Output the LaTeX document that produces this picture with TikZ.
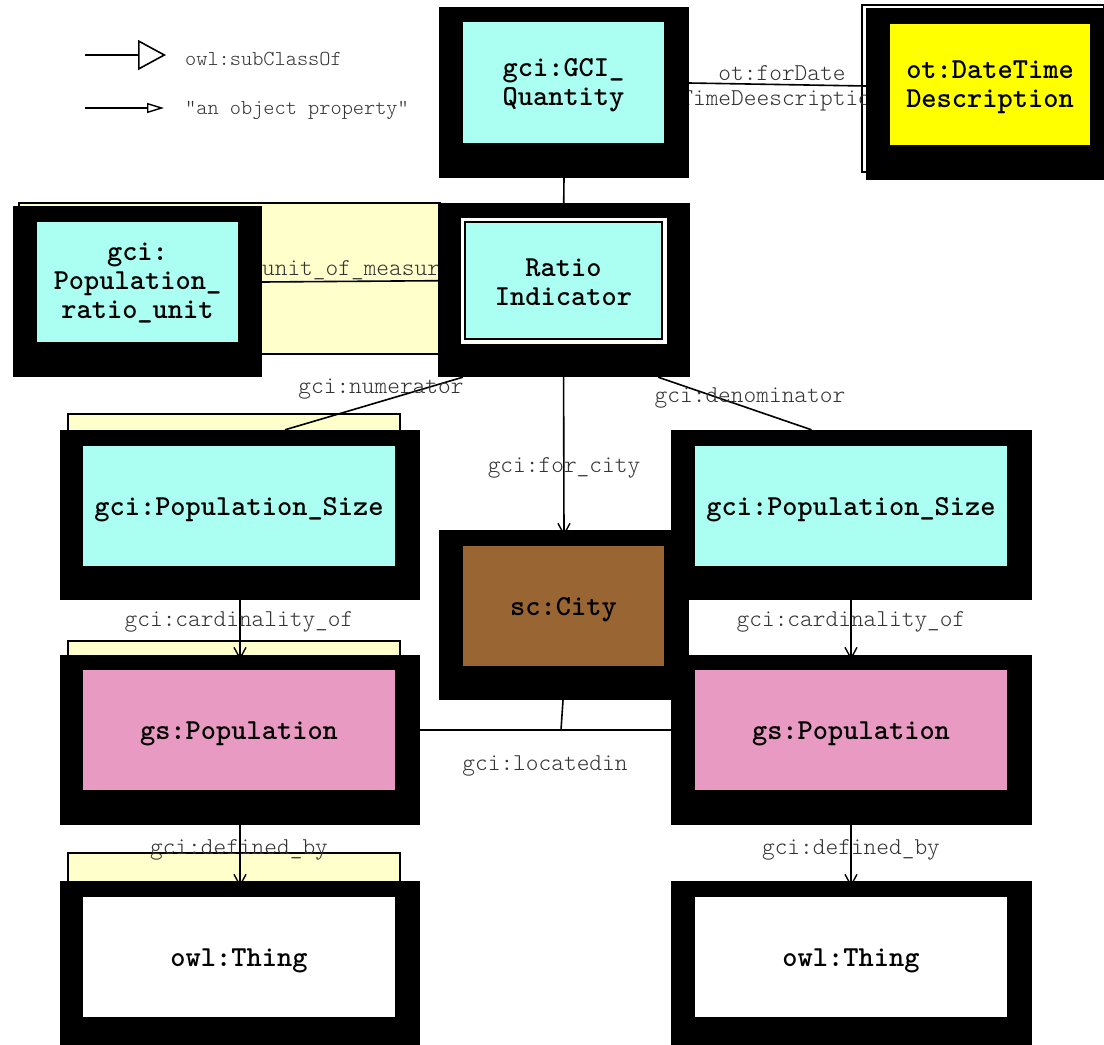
\documentclass[tikz,border=0pt]{standalone}
\usetikzlibrary{arrows.meta}
\definecolor{aqua}{HTML}{AAFFF2}
\definecolor{dtyellow}{HTML}{FFFF00}
\definecolor{citybrown}{HTML}{996633}
\definecolor{poppink}{HTML}{E89AC3}
\definecolor{pale}{HTML}{FFFFCC}
\definecolor{lblgray}{HTML}{333333}
\pgfdeclarelayer{back}
\pgfdeclarelayer{edges}
\pgfsetlayers{back,edges,main}
\tikzset{
  outerbox/.style={fill=black, draw=none, inner sep=0pt},
  innerbox/.style={draw=none, inner sep=0pt},
  ratiobox/.style={innerbox, fill=aqua, draw=black, line width=1.8pt,
    preaction={draw=white, line width=9pt}},
  classname/.style={inner sep=0pt, align=center,
    font=\ttfamily\bfseries\fontsize{29}{29}\selectfont},
  edge/.style={line width=1.6pt, draw=black},
  prop/.style={edge, -{Straight Barb[length=11pt, width=12pt, line width=1.4pt]}},
  elabel/.style={font=\ttfamily\fontseries{l}\fontsize{24.2}{25}\selectfont, text=lblgray,
    inner sep=0pt, align=center},
  legtext/.style={font=\ttfamily\fontseries{l}\fontsize{21.3}{22}\selectfont, text=lblgray,
    inner sep=0pt, anchor=west},
  paleback/.style={fill=pale, draw=black, line width=1.5pt},
}
\begin{document}
\begin{tikzpicture}[x=1pt, y=-1pt]
\clip (0,0) rectangle (1104,1045);
\begin{pgfonlayer}{back}
  \fill[white] (0,0) rectangle (1104,1045);
\end{pgfonlayer}

% legend
\coordinate (lg1a) at (85,55);
\coordinate (lg1b) at (166,55);
\coordinate (lg2a) at (85,108);
\coordinate (lg2b) at (164,108);
\draw[line width=1.6pt, -{Triangle[open, length=28pt, width=30pt, line width=1.6pt]}] (lg1a) -- (lg1b);
\draw[line width=1.6pt, -{Triangle[open, length=17pt, width=10pt, line width=1.4pt]}] (lg2a) -- (lg2b);
\node[legtext] (lgt1) at (185,59) {owl:subClassOf};
\node[legtext] (lgt2) at (185,110) {"an object property"};

% class boxes: black frame, coloured face, class name
\node[outerbox, minimum width=250pt, minimum height=171pt] (gciQ) at (564,92.5) {};
\node[innerbox, fill=aqua, minimum width=201pt, minimum height=121pt] (gciQ-in) at (563.5,82.5) {};
\node[classname] (gciQ-t) at ([yshift=-3pt]gciQ-in.center) {gci:GCI\_\\Quantity};

\node[outerbox, minimum width=238pt, minimum height=172pt] (dt) at (985,94) {};
\node[innerbox, fill=dtyellow, minimum width=200pt, minimum height=121pt] (dt-in) at (990,84.5) {};
\node[classname] (dt-t) at ([yshift=-2.5pt]dt-in.center) {ot:DateTime\\Description};

\node[outerbox, minimum width=249pt, minimum height=171pt] (pru) at (137.5,291.5) {};
\node[innerbox, fill=aqua, minimum width=201pt, minimum height=120pt] (pru-in) at (137.5,282) {};
\node[classname] (pru-t) at ([yshift=-1pt]pru-in.center) {gci:\\Population\_\\ratio\_unit};

\node[outerbox, minimum width=252pt, minimum height=174pt] (ratio) at (564,290) {};
\node[ratiobox, minimum width=197pt, minimum height=117pt] (ratio-in) at (563.5,280.5) {};
\node[classname] (ratio-t) at ([yshift=-1.5pt]ratio-in.center) {Ratio\\Indicator};

\node[outerbox, minimum width=360pt, minimum height=170pt] (psL) at (240,515) {};
\node[innerbox, fill=aqua, minimum width=312pt, minimum height=120pt] (psL-in) at (239,506) {};
\node[classname] (psL-t) at ([yshift=-4pt]psL-in.center) {gci:Population\_Size};

\node[outerbox, minimum width=361pt, minimum height=170pt] (psR) at (851.5,515) {};
\node[innerbox, fill=aqua, minimum width=312pt, minimum height=120pt] (psR-in) at (851,506) {};
\node[classname] (psR-t) at ([yshift=-4pt]psR-in.center) {gci:Population\_Size};

\node[outerbox, minimum width=250pt, minimum height=170pt] (city) at (564,615) {};
\node[innerbox, fill=citybrown, minimum width=201pt, minimum height=120pt] (city-in) at (563.5,606) {};
\node[classname] (city-t) at ([yshift=-3.5pt]city-in.center) {sc:City};

\node[outerbox, minimum width=360pt, minimum height=170pt] (popL) at (240,740) {};
\node[innerbox, fill=poppink, minimum width=312pt, minimum height=120pt] (popL-in) at (239,730) {};
\node[classname] (popL-t) at ([yshift=-4pt]popL-in.center) {gs:Population};

\node[outerbox, minimum width=361pt, minimum height=170pt] (popR) at (851.5,740) {};
\node[innerbox, fill=poppink, minimum width=312pt, minimum height=120pt] (popR-in) at (851,730) {};
\node[classname] (popR-t) at ([yshift=-4pt]popR-in.center) {gs:Population};

\node[outerbox, minimum width=360pt, minimum height=170pt] (thingL) at (240,966) {};
\node[innerbox, fill=white, minimum width=312pt, minimum height=120pt] (thingL-in) at (239,957) {};
\node[classname] (thingL-t) at ([yshift=-4pt]thingL-in.center) {owl:Thing};

\node[outerbox, minimum width=361pt, minimum height=170pt] (thingR) at (851.5,966) {};
\node[innerbox, fill=white, minimum width=312pt, minimum height=120pt] (thingR-in) at (851,957) {};
\node[classname] (thingR-t) at ([yshift=-4pt]thingR-in.center) {owl:Thing};

% pale panels behind the left column
\begin{pgfonlayer}{back}
  \draw[paleback] (19,203) rectangle (440,354);
  \draw[paleback] (68,414) rectangle (400,440);
  \draw[paleback] (68,641) rectangle (400,665);
  \draw[paleback] (68,853) rectangle (400,890);
  \draw[line width=1.2pt] (862,5) rectangle (1104,172);
\end{pgfonlayer}

% connectors and their labels
\begin{pgfonlayer}{edges}
  \draw[edge] (gciQ.south) -- (ratio-in.north);
  \draw[edge] ([yshift=9.5pt]gciQ.east) -- ([yshift=8pt]dt.west);
  \node[elabel] (l-forDate) at (782,88.5) {ot:forDate\\TimeDeescription};

  \draw[edge] ([yshift=9.5pt]pru.east) -- (ratio-in.west);
  \node[elabel] (l-unit) at (332,271) {gci:unit\_of\_measure};

  \draw[edge] ([xshift=25pt]ratio.south west) -- ([xshift=45pt]psL.north);
  \node[elabel] (l-num) at (381,389) {gci:numerator};

  \draw[edge] ([xshift=-32pt]ratio.south east) -- ([xshift=-40pt]psR.north);
  \node[elabel] (l-den) at (750,398) {gci:denominator};

  \draw[prop] (ratio-in.south) -- ([yshift=-6pt]city.north);
  \node[elabel] (l-city) at (564,468) {gci:for\_city};

  \draw[prop] (psL.south) -- ([yshift=-5pt]popL.north);
  \node[elabel] (l-cardL) at (239,622) {gci:cardinality\_of};
  \draw[prop] ([xshift=-0.5pt]psR.south) -- ([xshift=-0.5pt,yshift=-5pt]popR.north);
  \node[elabel] (l-cardR) at (851,622) {gci:cardinality\_of};

  \draw[prop] (popL.south) -- ([yshift=-6pt]thingL.north);
  \node[elabel] (l-defL) at (239,850) {gci:defined\_by};
  \draw[prop] ([xshift=-0.5pt]popR.south) -- ([xshift=-0.5pt,yshift=-6pt]thingR.north);
  \node[elabel] (l-defR) at (851,850) {gci:defined\_by};

  \coordinate (loc) at (561,730);
  \draw[edge] ([yshift=10pt]popL.east) -- ([yshift=10pt]popR.west);
  \draw[edge] ([xshift=-1pt]city.south) -- (loc);
  \node[elabel] (l-loc) at (545,766) {gci:locatedin};
\end{pgfonlayer}
\end{tikzpicture}
\end{document}
